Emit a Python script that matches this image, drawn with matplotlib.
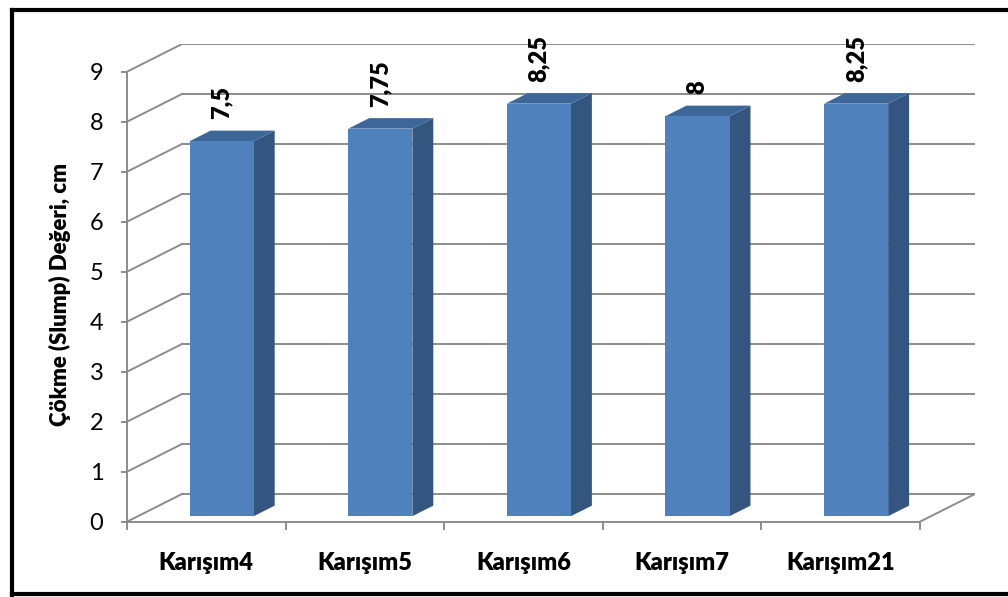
import matplotlib.pyplot as plt
from matplotlib.patches import Polygon
from matplotlib.lines import Line2D

# data
categories = ["Karışım4", "Karışım5", "Karışım6", "Karışım7", "Karışım21"]
slump = [7.5, 7.75, 8.25, 8, 8.25]
yticks = list(range(0, 10))

FONT = ['Lato', 'DejaVu Sans']
plt.rcParams['font.family'] = FONT

grid_col = '#8c8c8c'
front_col = '#4f81bd'
side_col = '#33557f'
top_col = '#3d6799'

# oblique depth of the wall (data units)
dx, dy = 0.347, 0.554
f0, f1 = 0.2, 0.58      # bar depth span as fraction of the floor depth
bar_w = 0.404
bar_shift = 0.028

fig = plt.figure(figsize=(10.08, 5.97), dpi=100)
ax = fig.add_axes([127 / 1008, 75.3 / 597, 848 / 1008, 477.7 / 597])
ax.set_xlim(0, 5 + dx)
ax.set_ylim(0, 9 + dy)
ax.patch.set_visible(False)

n = len(categories)
ymax = yticks[-1]

# back wall + left wall grid
for t in yticks:
    ax.plot([dx, n + dx], [t + dy, t + dy], color=grid_col, lw=1.4, zorder=1)
    ax.plot([0, dx], [t, t + dy], color=grid_col, lw=1.4, zorder=1)
# floor right edge
ax.plot([n, n + dx], [0, dy], color=grid_col, lw=1.4, zorder=1)

# bars
for i, v in enumerate(slump):
    cx = i + 0.5 + bar_shift + dx * f0
    x0, x1 = cx - bar_w / 2, cx + bar_w / 2
    b = dy * f0
    ddx, ddy = dx * (f1 - f0), dy * (f1 - f0)
    ax.add_patch(Polygon([(x1, b), (x1 + ddx, b + ddy), (x1 + ddx, b + v + ddy), (x1, b + v)],
                         closed=True, fc=side_col, ec='none', zorder=3))
    ax.add_patch(Polygon([(x0, b + v), (x1, b + v), (x1 + ddx, b + v + ddy), (x0 + ddx, b + v + ddy)],
                         closed=True, fc=top_col, ec='none', zorder=3))
    ax.add_patch(Polygon([(x0, b), (x1, b), (x1, b + v), (x0, b + v)],
                         closed=True, fc=front_col, ec='none', zorder=4))
    ax.annotate(f"{v:g}".replace('.', ','), xy=(cx, b + v), xytext=(0, 22),
                textcoords='offset pixels', ha='center', va='bottom', rotation=90,
                fontsize=17, fontweight='heavy', zorder=5)

# axes
for s in ['top', 'right']:
    ax.spines[s].set_visible(False)
ax.spines['left'].set_bounds(0, ymax)
ax.spines['bottom'].set_bounds(0, n)
for s in ['left', 'bottom']:
    ax.spines[s].set_color(grid_col)
    ax.spines[s].set_linewidth(1.4)
    ax.spines[s].set_zorder(2)

ax.set_yticks(yticks)
ax.set_yticklabels([str(t) for t in yticks])
ax.tick_params(axis='y', length=4, width=1.4, color=grid_col, pad=13, labelsize=17)

ax.set_xticks([i + 0.5 for i in range(n)])
ax.set_xticklabels(categories, fontweight='heavy')
ax.set_xticks(list(range(n + 1)), minor=True)
ax.tick_params(axis='x', which='major', length=0, pad=22, labelsize=17)
ax.tick_params(axis='x', which='minor', length=6, width=1.4, color=grid_col)

fig.text(60 / 1008, 1 - 295 / 597, "Çökme (Slump) Değeri, cm", rotation=90,
         ha='center', va='center', fontsize=16, fontweight='heavy')

# chart border (right side cut off)
fig.add_artist(Line2D([11.5 / 1008, 11.5 / 1008], [0.5 / 597, 1 - 10 / 597],
                      transform=fig.transFigure, color='black', lw=3))
fig.add_artist(Line2D([11.5 / 1008, 1], [1 - 10 / 597, 1 - 10 / 597],
                      transform=fig.transFigure, color='black', lw=3))
fig.add_artist(Line2D([11.5 / 1008, 1], [3 / 597, 3 / 597],
                      transform=fig.transFigure, color='black', lw=3))

fig.savefig("out.png", dpi=100)
